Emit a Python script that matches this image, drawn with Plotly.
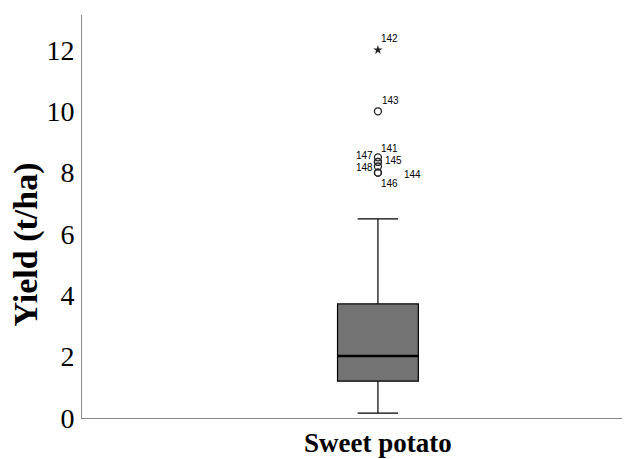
import plotly.graph_objects as go

category = ["Sweet potato"]
q1 = [1.2]
median = [2.02]
q3 = [3.72]
lower_whisker = [0.16]
upper_whisker = [6.49]

outlier_ids = ["142", "143", "141", "145", "147", "148", "144", "146"]
outlier_vals = [12.0, 10.0, 8.5, 8.35, 8.35, 8.2, 8.0, 8.0]
outlier_kind = ["extreme", "out", "out", "out", "out", "out", "out", "out"]
# label offsets (pixels) for each outlier id
label_pos = {
    "142": (12, -11), "143": (13, -11), "141": (12, -9), "145": (16, -1),
    "147": (-13, -6), "148": (-13, 1), "144": (35, 2), "146": (12, 11),
}

fig = go.Figure()
fig.add_trace(go.Box(
    x=category, q1=q1, median=median, q3=q3,
    lowerfence=lower_whisker, upperfence=upper_whisker,
    fillcolor="#737373", line=dict(color="#000000", width=1.2),
    width=0.148, whiskerwidth=0.5, boxpoints=False, showlegend=False,
    hoverinfo="skip",
))

circ_x = [category[0] for k in outlier_kind if k == "out"]
circ_y = [v for v, k in zip(outlier_vals, outlier_kind) if k == "out"]
star_x = [category[0] for k in outlier_kind if k == "extreme"]
star_y = [v for v, k in zip(outlier_vals, outlier_kind) if k == "extreme"]

fig.add_trace(go.Scatter(
    x=circ_x, y=circ_y, mode="markers",
    marker=dict(symbol="circle-open", size=7, color="#222222", line=dict(width=1.3)),
    showlegend=False,
))
fig.add_trace(go.Scatter(
    x=star_x, y=star_y, mode="markers",
    marker=dict(symbol="star", size=7, color="#222222"),
    showlegend=False,
))

for oid, val in zip(outlier_ids, outlier_vals):
    dx, dy = label_pos[oid]
    fig.add_annotation(
        x=category[0], y=val, text=oid, showarrow=False,
        xshift=dx, yshift=-dy,
        font=dict(family="Liberation Sans, Arial", size=10, color="#000000"),
    )

# thick median line
fig.add_shape(type="line", xref="x", yref="y",
              x0=-0.074, x1=0.074, y0=median[0], y1=median[0],
              line=dict(color="#000000", width=2.5))

# y-axis title
fig.add_annotation(
    xref="paper", yref="paper", x=-0.103, y=0.43, text="<b>Yield (t/ha)</b>",
    textangle=-90, showarrow=False, xanchor="center", yanchor="middle",
    font=dict(family="Liberation Serif, Times New Roman", size=34, color="#000000"),
)

fig.update_layout(
    width=622, height=451,
    margin=dict(l=74, r=2, t=7, b=41, autoexpand=False),
    paper_bgcolor="white", plot_bgcolor="white",
    font=dict(family="Liberation Serif, Times New Roman", color="#000000"),
)
fig.update_xaxes(
    range=[-0.542, 0.458], showline=True, linecolor="#888888", linewidth=1,
    showgrid=False, zeroline=False, ticks="", automargin=False,
    tickfont=dict(family="Liberation Serif, Times New Roman", size=27, color="#000000"),
    ticklabelstandoff=1,
)
fig.update_yaxes(
    range=[0, 13.14], showline=True, linecolor="#888888", linewidth=1,
    showgrid=False, zeroline=False, ticks="", automargin=False,
    tickvals=[0, 2, 4, 6, 8, 10, 12], ticklabelstandoff=1,
    tickfont=dict(family="Liberation Serif, Times New Roman", size=28, color="#000000"),
)
fig.update_xaxes(tickvals=category, ticktext=["<b>Sweet potato</b>"])

fig.write_html("out.html")
